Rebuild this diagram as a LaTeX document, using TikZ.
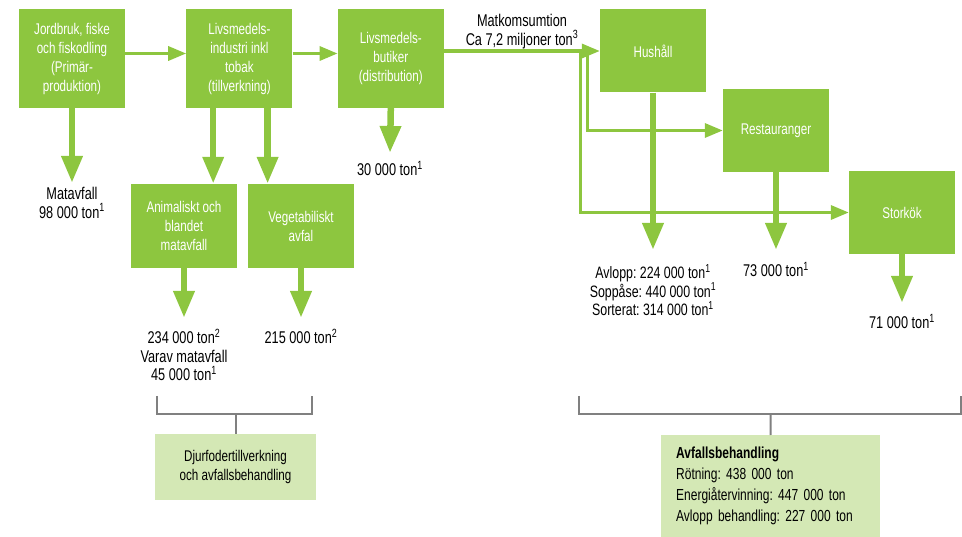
\documentclass[tikz,border=0pt]{standalone}
\usepackage{fontspec}
\setmainfont{Liberation Sans}[FakeStretch=0.75]
\usetikzlibrary{arrows.meta,positioning}
\definecolor{leaf}{RGB}{141,198,63}
\definecolor{pale}{RGB}{212,232,181}
\definecolor{bktgray}{RGB}{128,128,128}
\frenchspacing

\begin{document}
\begin{tikzpicture}[
  x=1pt, y=-1pt,
  box/.style={fill=leaf, text=white, minimum width=106pt, minimum height=99pt, inner sep=2pt, align=center, font=\fontsize{15.5}{19}\selectfont},
  lowbox/.style={box, minimum height=83pt},
  note/.style={fill=pale, align=center, inner sep=2pt, font=\fontsize{15.5}{19}\selectfont},
  val/.style={anchor=north, inner sep=0pt, align=center, font=\fontsize{17}{18.5}\selectfont},
  arr/.style={draw=leaf, line width=3.3pt, -{Triangle[length=18pt,width=14pt]}},
  big/.style={draw=leaf, line width=6.5pt, -{Triangle[length=27pt,width=20pt]}},
  bkt/.style={draw=bktgray, line width=2pt}
]
\useasboundingbox (0,0) rectangle (962,537);

% top row
\node[box] (n1) at (72,58.5) {Jordbruk, fiske\\och fiskodling\\(Primär-\\produktion)};
\node[box, right=61pt of n1] (n2) {Livsmedels-\\industri inkl\\tobak\\(tillverkning)};
\node[box, right=45pt of n2] (n3) {Livsmedels-\\butiker\\(distribution)};
\node[lowbox] (n4) at (653,51) {Hushåll};
\node[lowbox] (n5) at (776,130.5) {Restauranger};
\node[lowbox] (n6) at (902,212.5) {Storkök};

% waste boxes
\node[lowbox, minimum height=84pt] (n7) at (184,226) {Animaliskt och\\blandet\\matavfall};
\node[lowbox, minimum height=84pt] (n8) at (301,226) {Vegetabiliskt\\avfal};

% values
\node[val] (v0) at (522,14) {Matkomsumtion\\Ca 7,2 miljoner ton\textsuperscript{3}};
\node[val] (v1) at (72,187) {Matavfall\\98 000 ton\textsuperscript{1}};
\node[val] (v2) at (390,161) {30 000 ton\textsuperscript{1}};
\node[val, font=\fontsize{16.5}{16.8}\selectfont] (v3) at (653,264) {Avlopp: 224 000 ton\textsuperscript{1}\\Soppåse: 440 000 ton\textsuperscript{1}\\Sorterat: 314 000 ton\textsuperscript{1}};
\node[val] (v4) at (776,262) {73 000 ton\textsuperscript{1}};
\node[val] (v5) at (902,314) {71 000 ton\textsuperscript{1}};
\node[val] (v6) at (184,329) {234 000 ton\textsuperscript{2}\\Varav matavfall\\45 000 ton\textsuperscript{1}};
\node[val] (v7) at (301,329) {215 000 ton\textsuperscript{2}};

% arrow tips
\coordinate (t1) at (72,183);
\coordinate (t2) at (390,153);
\coordinate (t3) at (653,250);
\coordinate (t4) at (776,250);
\coordinate (t5) at (902,303);
\coordinate (t6) at (184,318);
\coordinate (t7) at (301,318);

% treatment boxes
\node[note, minimum width=161pt, minimum height=66pt] (n9) at (235.5,467) {Djurfodertillverkning\\och avfallsbehandling};
\node[note, anchor=north west, align=left, minimum height=102pt, text width=189pt, inner xsep=15pt, font=\fontsize{16}{21}\selectfont] (n10) at (661,435) {\textbf{Avfallsbehandling}\\Rötning: 438 000 ton\\Energiåtervinning: 447 000 ton\\Avlopp behandling: 227 000 ton};

% flows
\draw[arr] ([yshift=5pt]n1.east) -- ([yshift=5pt]n2.west);
\draw[arr] ([yshift=5pt]n2.east) -- ([yshift=5pt]n3.west);
\draw[arr] ([xshift=-19pt]n4.west) |- (n6.west);
\draw[arr] ([xshift=-12pt]n4.west) |- (n5.west);
\draw[arr] ([yshift=7.5pt]n3.east) -- (n4.west);

\draw[big] (n1.south) -- (t1);
\draw[big] ([xshift=27pt]n2.south west) -- ([xshift=27pt]n2.south west |- n7.north);
\draw[big] ([xshift=-25pt]n2.south east) -- ([xshift=-25pt]n2.south east |- n8.north);
\draw[big] (n3.south) -- (t2);
\draw[big] (n4.south) -- (t3);
\draw[big] (n5.south) -- (t4);
\draw[big] (n6.south) -- (t5);
\draw[big] (n7.south) -- (t6);
\draw[big] (n8.south) -- (t7);

% brackets
\coordinate (b1) at (235.5,414);
\coordinate (b2) at (770.5,414);
\draw[bkt] (157,396) -- (157,414) -- (312,414) -- (312,396);
\draw[bkt] (b1) -- (n9.north);
\draw[bkt] (579,396) -- (579,414) -- (961,414) -- (961,396);
\draw[bkt] (b2) -- (n10.north);
\end{tikzpicture}
\end{document}
